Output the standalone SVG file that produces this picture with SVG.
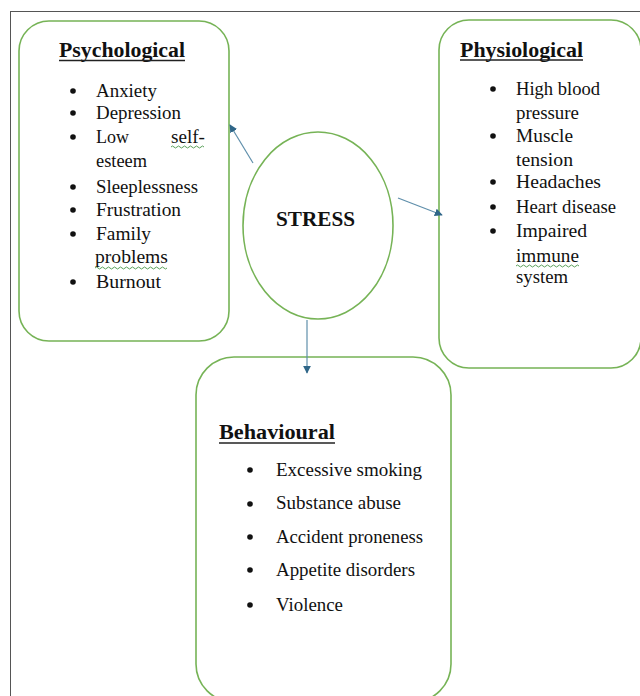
<svg xmlns="http://www.w3.org/2000/svg" width="640" height="696" viewBox="0 0 640 696">
<style>
.box{fill:#fff;stroke:#76b356;stroke-width:1.6}
.t{font-family:"Liberation Serif","Times New Roman",serif;font-size:19px;fill:#111}
.h{font-family:"Liberation Serif","Times New Roman",serif;font-size:20px;font-weight:bold;fill:#111}
.ul{stroke:#222;stroke-width:1.4}
.b{fill:#111}
.sq{fill:none;stroke:#5aa05a;stroke-width:1}
.c{stroke:#5f8fab;stroke-width:1.2;fill:none;marker-end:url(#ah)}
</style>
<defs>
<marker id="ah" viewBox="0 0 10 10" refX="9" refY="5" markerWidth="8" markerHeight="8" markerUnits="userSpaceOnUse" orient="auto">
<path d="M0,0 L10,5 L0,10 z" fill="#2f6688"/>
</marker>
</defs>
<rect x="0" y="0" width="640" height="696" fill="#fff"/>
<rect x="10.5" y="11.5" width="640" height="700" fill="none" stroke="#555" stroke-width="1"/>

<g id="psychological">
<rect class="box" x="19" y="21" width="210" height="320" rx="30"/>
<text class="h" x="59" y="57" textLength="126" lengthAdjust="spacingAndGlyphs">Psychological</text>
<line class="ul" x1="59" y1="60.5" x2="185" y2="60.5"/>
<circle class="b" cx="73" cy="91" r="2.8"/>
<text class="t" x="96" y="97" textLength="61" lengthAdjust="spacingAndGlyphs">Anxiety</text>
<circle class="b" cx="73" cy="113" r="2.8"/>
<text class="t" x="96" y="119" textLength="85" lengthAdjust="spacingAndGlyphs">Depression</text>
<circle class="b" cx="73" cy="137" r="2.8"/>
<text class="t" x="96" y="143" textLength="33" lengthAdjust="spacingAndGlyphs">Low</text>
<text class="t" x="171" y="143" textLength="34" lengthAdjust="spacingAndGlyphs">self-</text>
<path class="sq" d="M171,147 q1.5,-2 3,0 t3,0 t3,0 t3,0 t3,0 t3,0 t3,0 t3,0 t3,0 t3,0 t3,0"/>
<text class="t" x="96" y="167" textLength="51" lengthAdjust="spacingAndGlyphs">esteem</text>
<circle class="b" cx="73" cy="187" r="2.8"/>
<text class="t" x="96" y="193" textLength="102" lengthAdjust="spacingAndGlyphs">Sleeplessness</text>
<circle class="b" cx="73" cy="210" r="2.8"/>
<text class="t" x="96" y="216" textLength="85" lengthAdjust="spacingAndGlyphs">Frustration</text>
<circle class="b" cx="73" cy="234" r="2.8"/>
<text class="t" x="96" y="240" textLength="55" lengthAdjust="spacingAndGlyphs">Family</text>
<text class="t" x="95" y="263" textLength="73" lengthAdjust="spacingAndGlyphs">problems</text>
<path class="sq" d="M95,268 q1.5,-2 3,0 t3,0 t3,0 t3,0 t3,0 t3,0 t3,0 t3,0 t3,0 t3,0 t3,0 t3,0 t3,0 t3,0 t3,0 t3,0 t3,0 t3,0 t3,0 t3,0 t3,0 t3,0 t3,0 t3,0"/>
<circle class="b" cx="73" cy="282" r="2.8"/>
<text class="t" x="96" y="288" textLength="65" lengthAdjust="spacingAndGlyphs">Burnout</text>
</g>

<g id="physiological">
<rect class="box" x="439" y="20" width="202" height="348" rx="30"/>
<text class="h" x="460" y="57" textLength="123" lengthAdjust="spacingAndGlyphs">Physiological</text>
<line class="ul" x1="460" y1="60" x2="583" y2="60"/>
<circle class="b" cx="493" cy="89" r="2.8"/>
<text class="t" x="516" y="95" textLength="84" lengthAdjust="spacingAndGlyphs">High blood</text>
<text class="t" x="516" y="119" textLength="63" lengthAdjust="spacingAndGlyphs">pressure</text>
<circle class="b" cx="493" cy="136" r="2.8"/>
<text class="t" x="516" y="142" textLength="57" lengthAdjust="spacingAndGlyphs">Muscle</text>
<text class="t" x="516" y="166" textLength="57" lengthAdjust="spacingAndGlyphs">tension</text>
<circle class="b" cx="493" cy="182" r="2.8"/>
<text class="t" x="516" y="188" textLength="85" lengthAdjust="spacingAndGlyphs">Headaches</text>
<circle class="b" cx="493" cy="207" r="2.8"/>
<text class="t" x="516" y="213" textLength="100" lengthAdjust="spacingAndGlyphs">Heart disease</text>
<circle class="b" cx="493" cy="231" r="2.8"/>
<text class="t" x="516" y="237" textLength="71" lengthAdjust="spacingAndGlyphs">Impaired</text>
<text class="t" x="516" y="262" textLength="63" lengthAdjust="spacingAndGlyphs">immune</text>
<path class="sq" d="M516,266 q1.5,-2 3,0 t3,0 t3,0 t3,0 t3,0 t3,0 t3,0 t3,0 t3,0 t3,0 t3,0 t3,0 t3,0 t3,0 t3,0 t3,0 t3,0 t3,0 t3,0 t3,0 t3,0"/>
<text class="t" x="516" y="283" textLength="52" lengthAdjust="spacingAndGlyphs">system</text>
</g>

<g id="stress">
<ellipse class="box" cx="318" cy="225.5" rx="75" ry="93.5"/>
<text class="h" x="276" y="226" textLength="79" lengthAdjust="spacingAndGlyphs">STRESS</text>
</g>

<g id="behavioural">
<rect class="box" x="196" y="357" width="255" height="345" rx="38"/>
<text class="h" x="219" y="439" textLength="116" lengthAdjust="spacingAndGlyphs">Behavioural</text>
<line class="ul" x1="219" y1="443" x2="335" y2="443"/>
<circle class="b" cx="250" cy="470" r="2.8"/>
<text class="t" x="276" y="476" textLength="146" lengthAdjust="spacingAndGlyphs">Excessive smoking</text>
<circle class="b" cx="250" cy="504" r="2.8"/>
<text class="t" x="276" y="509" textLength="125" lengthAdjust="spacingAndGlyphs">Substance abuse</text>
<circle class="b" cx="250" cy="537" r="2.8"/>
<text class="t" x="276" y="543" textLength="147" lengthAdjust="spacingAndGlyphs">Accident proneness</text>
<circle class="b" cx="250" cy="570" r="2.8"/>
<text class="t" x="276" y="576" textLength="139" lengthAdjust="spacingAndGlyphs">Appetite disorders</text>
<circle class="b" cx="250" cy="605" r="2.8"/>
<text class="t" x="276" y="611" textLength="67" lengthAdjust="spacingAndGlyphs">Violence</text>
</g>

<g id="connectors">
<line class="c" x1="253" y1="163" x2="230" y2="125"/>
<line class="c" x1="398" y1="198" x2="442" y2="215"/>
<line class="c" x1="307" y1="320" x2="307" y2="373"/>
</g>
</svg>
